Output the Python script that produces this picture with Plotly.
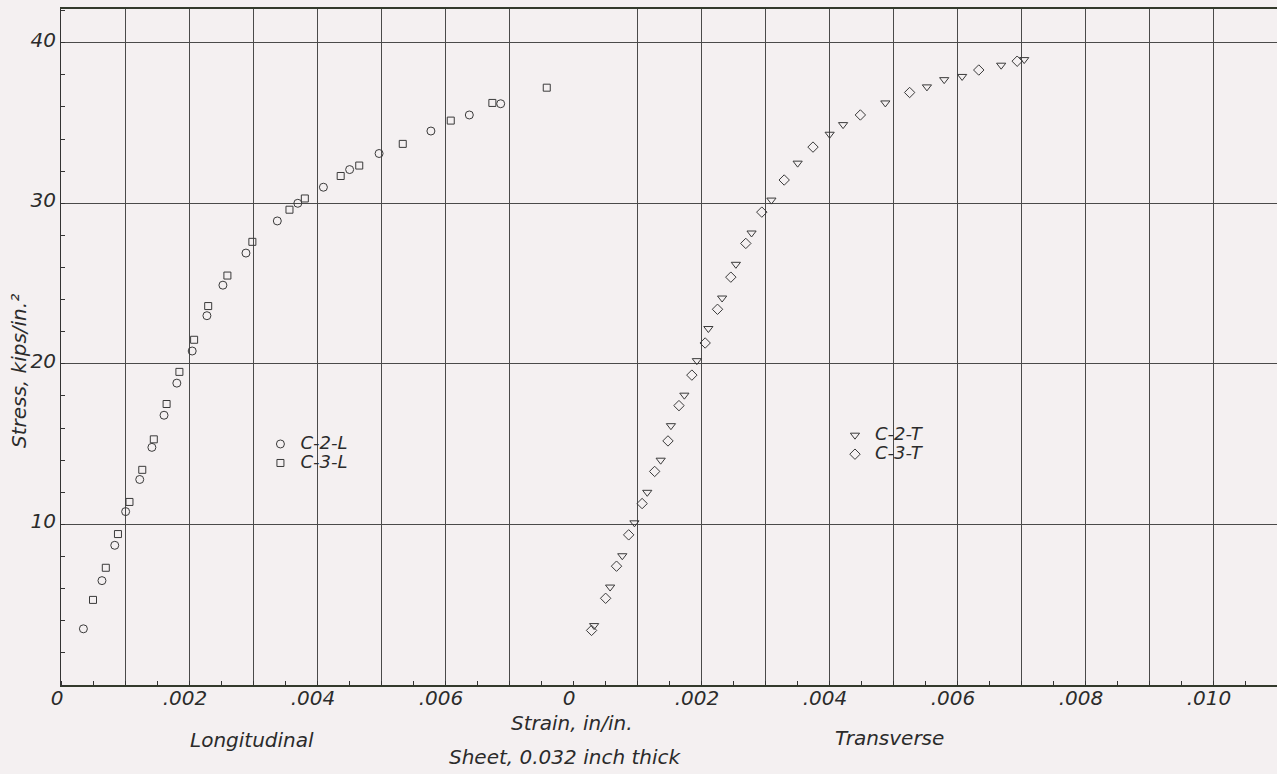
import plotly.graph_objects as go

# ---- data (strain in in/in, stress in kips/in^2) ----
c2l_strain = [0.00035, 0.00064, 0.00084, 0.00101, 0.00123, 0.00142, 0.00161, 0.00181, 0.00205, 0.00228,
              0.00253, 0.00289, 0.00338, 0.00370, 0.00410, 0.00451, 0.00497, 0.00578, 0.00638, 0.00687]
c2l_stress = [3.5, 6.5, 8.7, 10.8, 12.8, 14.8, 16.8, 18.8, 20.8, 23.0,
              24.9, 26.9, 28.9, 30.0, 31.0, 32.1, 33.1, 34.5, 35.5, 36.2]

c3l_strain = [0.00050, 0.00070, 0.00089, 0.00107, 0.00127, 0.00145, 0.00165, 0.00185, 0.00208, 0.00230,
              0.00260, 0.00299, 0.00357, 0.00381, 0.00437, 0.00466, 0.00534, 0.00609, 0.00674, 0.00759]
c3l_stress = [5.3, 7.3, 9.4, 11.4, 13.4, 15.3, 17.5, 19.5, 21.5, 23.6,
              25.5, 27.6, 29.6, 30.3, 31.7, 32.35, 33.7, 35.15, 36.25, 37.2]

c2t_strain = [0.00033, 0.00058, 0.00077, 0.00096, 0.00116, 0.00137, 0.00153, 0.00174, 0.001935, 0.002115,
              0.00233, 0.002545, 0.00279, 0.00310, 0.00351, 0.00401, 0.00422, 0.00488, 0.00553, 0.00580,
              0.00608, 0.00669, 0.00705]
c2t_stress = [3.7, 6.1, 8.05, 10.1, 12.0, 14.0, 16.15, 18.05, 20.2, 22.2,
              24.1, 26.2, 28.15, 30.2, 32.5, 34.3, 34.9, 36.25, 37.25, 37.7,
              37.9, 38.6, 38.95]

c3t_strain = [0.00029, 0.00051, 0.00068, 0.00087, 0.00108, 0.001276, 0.001484, 0.001656, 0.001857, 0.002065,
              0.002258, 0.002466, 0.00270, 0.00295, 0.00330, 0.00375, 0.00449, 0.00526, 0.00634, 0.00694]
c3t_stress = [3.4, 5.4, 7.4, 9.35, 11.3, 13.3, 15.2, 17.4, 19.3, 21.3,
              23.4, 25.4, 27.5, 29.45, 31.45, 33.5, 35.5, 36.9, 38.3, 38.85]

long_ticks = [0, 0.001, 0.002, 0.003, 0.004, 0.005, 0.006, 0.007]
long_labels = ["0", "", ".002", "", ".004", "", ".006", ""]
trans_ticks = [0, 0.001, 0.002, 0.003, 0.004, 0.005, 0.006, 0.007, 0.008, 0.009, 0.010]
trans_labels = ["0", "", ".002", "", ".004", "", ".006", "", ".008", "", ".010"]
stress_ticks = [10, 20, 30, 40]
stress_labels = ["10", "20", "30", "40"]

# ---- style ----
BG = "#f4f0f1"
INK = "#2b2b2b"
GRID = "#4a4a4a"
FONT = "DejaVu Sans"

def mk(symbol, size):
    return dict(symbol=symbol, size=size, color="#3a3a3a",
                line=dict(color="#3a3a3a", width=1))

def lg(name):
    return "<span style='font-size:18px'>" + name + "</span>"

fig = go.Figure()
fig.add_trace(go.Scatter(x=c2l_strain, y=c2l_stress, mode="markers", name=lg("C-2-L"),
                         marker=mk("circle-open", 8), xaxis="x", yaxis="y", legend="legend"))
fig.add_trace(go.Scatter(x=c3l_strain, y=c3l_stress, mode="markers", name=lg("C-3-L"),
                         marker=mk("square-open", 7), xaxis="x", yaxis="y", legend="legend"))
fig.add_trace(go.Scatter(x=c2t_strain, y=c2t_stress, mode="markers", name=lg("C-2-T"),
                         marker=mk("triangle-down-open", 8), xaxis="x2", yaxis="y", legend="legend2"))
fig.add_trace(go.Scatter(x=c3t_strain, y=c3t_stress, mode="markers", name=lg("C-3-T"),
                         marker=mk("diamond-open", 8), xaxis="x2", yaxis="y", legend="legend2"))

tickfont = dict(family=FONT, size=20, color=INK, style="italic")
split = 8 / 19

common_x = dict(
    showgrid=True, gridcolor=GRID, gridwidth=1,
    zeroline=False, showline=True, linecolor="#333a2c", linewidth=1.5, mirror=True,
    ticks="", tickfont=tickfont, ticklabelstandoff=-6, ticklabelshift=-4,
    minor=dict(dtick=0.0005, tick0=0, ticks="inside", ticklen=4, tickcolor="#333",
               tickwidth=1, showgrid=False),
)

legfont = dict(family=FONT, size=12, color=INK, style="italic")

fig.update_layout(
    width=1277, height=774,
    margin=dict(l=61, r=0, t=9, b=89),
    paper_bgcolor=BG, plot_bgcolor=BG,
    showlegend=True,
    xaxis=dict(domain=[0, split], range=[0, 0.008], tickmode="array",
               tickvals=long_ticks, ticktext=long_labels, anchor="y", **common_x),
    xaxis2=dict(domain=[split, 1], range=[0, 0.011], tickmode="array",
                tickvals=trans_ticks, ticktext=trans_labels, anchor="y", **common_x),
    yaxis=dict(range=[0, 42.1], tickmode="array", tickvals=stress_ticks, ticktext=stress_labels,
               showgrid=True, gridcolor=GRID, gridwidth=1, zeroline=False,
               showline=True, linecolor="#333", linewidth=1.2,
               ticks="", tickfont=tickfont, ticklabelstandoff=0, ticklabelshift=-3,
               minor=dict(dtick=2, tick0=0, ticks="inside", ticklen=4, tickcolor="#333",
                          tickwidth=1, showgrid=False)),
    legend=dict(x=0.164, y=0.378, xanchor="left", yanchor="top", bgcolor="rgba(0,0,0,0)",
                font=legfont, tracegroupgap=0, itemwidth=30),
    legend2=dict(x=0.6365, y=0.391, xanchor="left", yanchor="top", bgcolor="rgba(0,0,0,0)",
                 font=legfont, tracegroupgap=0, itemwidth=30),
)

afont = dict(family=FONT, size=20, color=INK, style="italic")
notes = [
    ("Strain, in/in.", 0.4202, -0.0565, 0),
    ("Longitudinal", 0.157, -0.0814, 0),
    ("Transverse", 0.6817, -0.0784, 0),
    ("Sheet, 0.032 inch thick", 0.4145, -0.1065, 0),
    ("Stress, kips/in.²", -0.0345, 0.4645, -90),
]
for text, x, y, ang in notes:
    fig.add_annotation(text=text, x=x, y=y, xref="paper", yref="paper", showarrow=False,
                       xanchor="center", yanchor="middle", textangle=ang, font=afont)

fig.write_html("out.html", config={"displayModeBar": False},
               post_script="document.body.style.margin='0';document.body.style.overflow='hidden';")
